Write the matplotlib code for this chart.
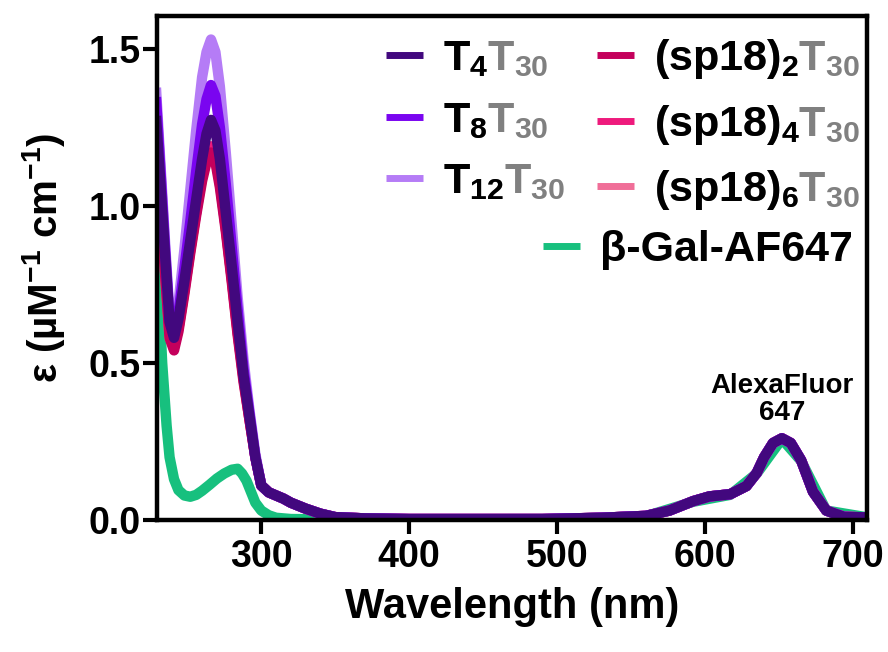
import numpy as np
import matplotlib
matplotlib.use("Agg")
import matplotlib.pyplot as plt

plt.rcParams['font.family'] = ['Liberation Sans', 'DejaVu Sans']
plt.rcParams['font.weight'] = 'bold'
plt.rcParams['axes.labelweight'] = 'bold'
plt.rcParams['mathtext.fontset'] = 'custom'
plt.rcParams['mathtext.rm'] = 'Liberation Sans:bold'
plt.rcParams['mathtext.bf'] = 'Liberation Sans:bold'
plt.rcParams['mathtext.default'] = 'rm'

## Data
# UV region, one list per oligo conjugate
wl_uv = [229, 232, 235, 238, 241, 244, 248, 252, 256, 260, 263, 266,
         269, 272, 276, 280, 284, 288, 292, 296, 300]
t4_uv = [1.27, 1.06, 0.84, 0.63, 0.58, 0.64, 0.76, 0.89, 1.02, 1.15, 1.23, 1.274,
         1.24, 1.15, 0.98, 0.81, 0.63, 0.46, 0.33, 0.20, 0.11]
t8_uv = [1.33, 1.10, 0.86, 0.64, 0.59, 0.66, 0.80, 0.95, 1.11, 1.26, 1.34, 1.385,
         1.35, 1.25, 1.07, 0.87, 0.67, 0.48, 0.34, 0.20, 0.11]
t12_uv = [1.36, 1.12, 0.88, 0.65, 0.60, 0.69, 0.86, 1.05, 1.24, 1.41, 1.49, 1.53,
          1.49, 1.38, 1.17, 0.94, 0.71, 0.51, 0.35, 0.21, 0.11]
sp2_uv = [1.22, 1.00, 0.78, 0.58, 0.54, 0.60, 0.72, 0.85, 0.97, 1.08, 1.14, 1.17,
          1.14, 1.06, 0.92, 0.76, 0.59, 0.44, 0.32, 0.20, 0.11]
sp4_uv = [1.23, 1.01, 0.79, 0.59, 0.55, 0.61, 0.73, 0.86, 0.98, 1.10, 1.16, 1.19,
          1.16, 1.08, 0.93, 0.77, 0.60, 0.45, 0.32, 0.20, 0.11]
sp6_uv = [1.22, 1.00, 0.78, 0.58, 0.55, 0.61, 0.73, 0.86, 0.98, 1.09, 1.15, 1.18,
          1.15, 1.07, 0.93, 0.77, 0.60, 0.45, 0.32, 0.20, 0.11]

# visible / AF647 region (same for all conjugates)
wl_vis = [305, 310, 315, 320, 330, 340, 350, 370, 400, 450, 490, 530, 560, 576,
          592, 603, 617, 628, 635, 640, 646, 652, 658, 665, 673, 682, 694, 710]
af647_vis = [0.088, 0.078, 0.068, 0.055, 0.036, 0.02, 0.009, 0.005, 0.003, 0.003,
             0.003, 0.007, 0.013, 0.03, 0.06, 0.075, 0.082, 0.108, 0.15, 0.20,
             0.245, 0.26, 0.245, 0.19, 0.09, 0.03, 0.01, 0.008]

# beta-Gal-AF647
wl_gal = [229, 231, 233, 236, 238, 241, 244, 248, 252, 256, 260, 265, 270, 275,
          280, 284, 287, 290, 293, 296, 300, 305, 310, 320, 340, 400, 500, 560,
          592, 617, 635, 652, 665, 682, 710]
gal = [0.89, 0.70, 0.50, 0.30, 0.20, 0.13, 0.095, 0.078, 0.074, 0.08, 0.093,
       0.112, 0.132, 0.148, 0.16, 0.163, 0.148, 0.125, 0.09, 0.055, 0.03, 0.015,
       0.007, 0.003, 0.002, 0.002, 0.003, 0.012, 0.058, 0.08, 0.148, 0.258,
       0.188, 0.03, 0.008]

wl = np.concatenate([wl_uv, wl_vis])

series = [
    # (prefix, uv values, colour) -- drawn bottom to top
    ("(sp18)$_6$", sp6_uv, "#F06E98"),
    ("(sp18)$_4$", sp4_uv, "#EE1A7C"),
    ("(sp18)$_2$", sp2_uv, "#C4005C"),
    ("T$_{12}$", t12_uv, "#B57CF6"),
    ("T$_8$", t8_uv, "#7A05F0"),
    ("T$_4$", t4_uv, "#42087E"),
]
gal_color = "#17C07E"
suffix = "T$_{30}$"

fig = plt.figure(figsize=(8.88, 6.52), dpi=100)
ax = fig.add_axes([0.1768, 0.2025, 0.7995, 0.7730])

lines = {}
l, = ax.plot(wl_gal, gal, color=gal_color, lw=7.5)
lines["gal"] = l
for name, uv, col in series:
    l, = ax.plot(wl, np.concatenate([uv, af647_vis]), color=col, lw=7.5)
    lines[name] = l

ax.set_xlim(229.5, 709.5)
ax.set_ylim(0, 1.605)
ax.set_xticks([300, 400, 500, 600, 700])
ax.set_yticks([0.0, 0.5, 1.0, 1.5])
ax.set_yticklabels(["0.0", "0.5", "1.0", "1.5"])
ax.tick_params(labelsize=27, width=3, length=10, pad=4)
ax.tick_params(axis='y', pad=2)
for s in ax.spines.values():
    s.set_linewidth(3.2)

ax.set_xlabel("Wavelength (nm)", fontsize=30, labelpad=8)
ax.set_ylabel("ε (µM$^{-1}$ cm$^{-1}$)", fontsize=29)
ax.yaxis.set_label_coords(-0.127, 0.52)

ax.text(652, 0.30, "AlexaFluor\n647", ha='center', va='bottom', fontsize=20,
        linespacing=1.05)

# legend: two columns of conjugates, grey "T30" suffix
order = ["T$_4$", "T$_8$", "T$_{12}$", "(sp18)$_2$", "(sp18)$_4$", "(sp18)$_6$"]
handles = [lines[k] for k in order]
labels = [k + suffix for k in order]
leg = ax.legend(handles, labels, ncol=2, loc='upper right',
                bbox_to_anchor=(0.99, 0.958), frameon=False, fontsize=31,
                handlelength=0.84, handletextpad=0.47, columnspacing=0.75,
                labelspacing=0.5, borderpad=0, borderaxespad=0)
for lh in leg.get_lines():
    lh.set_linewidth(5)
    lh.set_solid_capstyle('butt')
for t, k in zip(leg.get_texts(), order):
    t.set_color("#808080")
    ax.annotate(k, xy=(0, 0), xycoords=t, ha='left', va='bottom',
                fontsize=31, color='black', zorder=10, annotation_clip=False)
ax.add_artist(leg)

leg2 = ax.legend([lines["gal"]], ["β-Gal-AF647"], loc='upper right',
                 bbox_to_anchor=(0.98, 0.575), frameon=False, fontsize=31,
                 handlelength=0.84, handletextpad=0.47, borderpad=0,
                 borderaxespad=0)
for lh in leg2.get_lines():
    lh.set_linewidth(5)
    lh.set_solid_capstyle('butt')

fig.canvas.draw()
fig.savefig("out.png", dpi=100)
